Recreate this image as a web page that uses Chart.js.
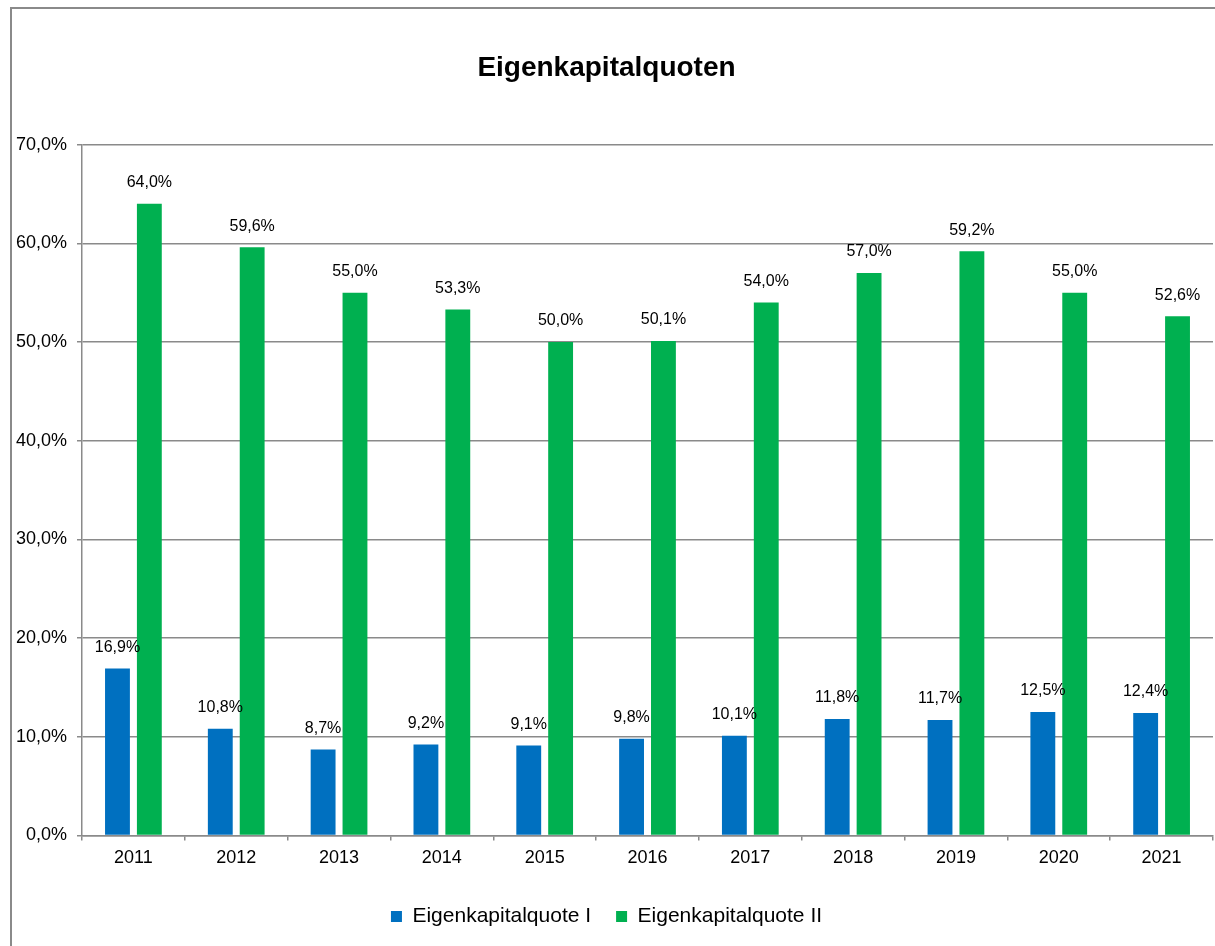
<!DOCTYPE html>
<html>
<head>
<meta charset="utf-8">
<script src="https://cdn.jsdelivr.net/npm/chart.js@4/dist/chart.umd.min.js"></script>
<style>
  html, body { margin: 0; padding: 0; background: #fff; }
  #wrap { width: 1215px; height: 946px; }
</style>
</head>
<body>
<div id="wrap"><canvas id="chart" width="1215" height="946"></canvas></div>
<script>
  // Data
  const years = ["2011", "2012", "2013", "2014", "2015", "2016", "2017", "2018", "2019", "2020", "2021"];
  const quoteOne = [16.9, 10.8, 8.7, 9.2, 9.1, 9.8, 10.1, 11.8, 11.7, 12.5, 12.4];
  const quoteTwo = [64.0, 59.6, 55.0, 53.3, 50.0, 50.1, 54.0, 57.0, 59.2, 55.0, 52.6];
  const yMax = 70;
  const yStep = 10;

  const FONT = "'Liberation Sans', Arial, sans-serif";
  const GREY = "#8a8a8a";

  const fmt = (v) => Number(v).toFixed(1).replace(".", ",") + "%";

  // Outer frame + white background
  const framePlugin = {
    id: "frame",
    beforeDraw(chart) {
      const ctx = chart.ctx;
      ctx.save();
      ctx.fillStyle = "#fff";
      ctx.fillRect(0, 0, chart.width, chart.height);
      ctx.strokeStyle = GREY;
      ctx.lineWidth = 2;
      ctx.strokeRect(11, 8, chart.width + 20, chart.height + 20);
      ctx.restore();
    }
  };

  // Value labels above bars
  const valueLabels = {
    id: "valueLabels",
    afterDatasetsDraw(chart) {
      const ctx = chart.ctx;
      ctx.save();
      ctx.font = "16px " + FONT;
      ctx.fillStyle = "#000";
      ctx.textAlign = "center";
      ctx.textBaseline = "middle";
      chart.data.datasets.forEach((ds, i) => {
        chart.getDatasetMeta(i).data.forEach((bar, j) => {
          ctx.fillText(fmt(ds.data[j]), bar.x, bar.y - 21);
        });
      });
      ctx.restore();
    }
  };

  new Chart(document.getElementById("chart"), {
    type: "bar",
    data: {
      labels: years,
      datasets: [
        {
          label: "Eigenkapitalquote I",
          data: quoteOne,
          backgroundColor: "#0070c0",
          categoryPercentage: 0.62,
          barPercentage: 0.78
        },
        {
          label: "Eigenkapitalquote II",
          data: quoteTwo,
          backgroundColor: "#00b050",
          categoryPercentage: 0.62,
          barPercentage: 0.78
        }
      ]
    },
    options: {
      responsive: false,
      animation: false,
      devicePixelRatio: 1,
      layout: { padding: { left: 0, right: 2, top: 0, bottom: 9 } },
      scales: {
        x: {
          grid: {
            drawOnChartArea: false,
            drawTicks: true,
            tickLength: 5,
            color: GREY,
            lineWidth: 1.5
          },
          border: { color: GREY, width: 1.5 },
          ticks: {
            color: "#000",
            padding: 7,
            font: { family: FONT, size: 18 }
          },
          afterFit(scale) { scale.height = 45.6; }
        },
        y: {
          min: 0,
          max: yMax,
          ticks: {
            stepSize: yStep,
            color: "#000",
            padding: 10,
            font: { family: FONT, size: 18 },
            callback: (v) => fmt(v)
          },
          grid: {
            color: GREY,
            lineWidth: 1.5,
            tickLength: 5
          },
          border: { color: GREY, width: 1.5 },
          afterFit(scale) { scale.width = 82; }
        }
      },
      plugins: {
        title: {
          display: true,
          text: "Eigenkapitalquoten",
          color: "#000",
          font: { family: FONT, size: 28, weight: "bold", lineHeight: 1.2 },
          padding: { top: 51, bottom: 60 }
        },
        legend: {
          position: "bottom",
          labels: {
            color: "#000",
            boxWidth: 11,
            boxHeight: 11,
            padding: 25,
            font: { family: FONT, size: 21 }
          }
        },
        tooltip: { enabled: false }
      }
    },
    plugins: [framePlugin, valueLabels]
  });
</script>
</body>
</html>
